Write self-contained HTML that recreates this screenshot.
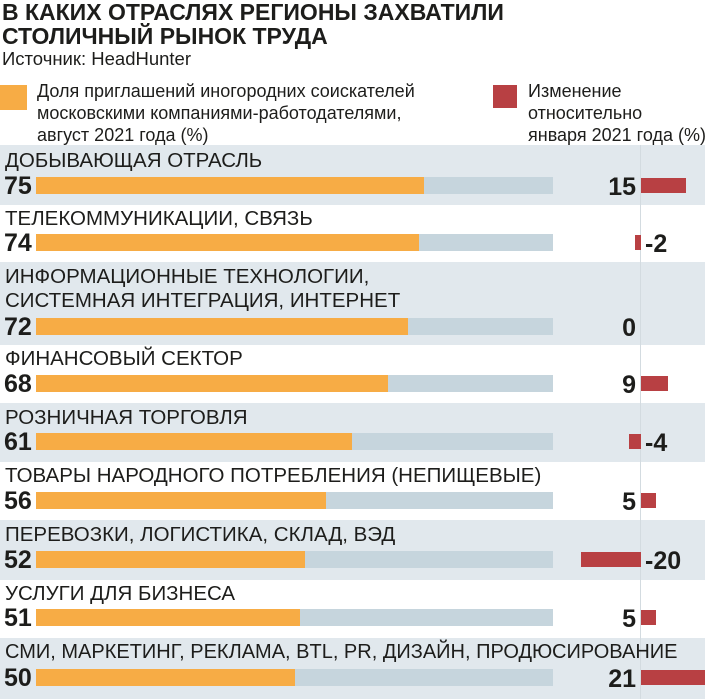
<!DOCTYPE html>
<html><head><meta charset="utf-8"><style>
*{margin:0;padding:0;box-sizing:border-box}
body{width:705px;height:699px;overflow:hidden;background:#fff;font-family:"Liberation Sans Narrow","Liberation Sans",sans-serif;color:#1d1d1b;position:relative}
.a{position:absolute;white-space:nowrap}
.t{font-weight:bold;font-size:23px;line-height:24px;left:2px}
.band{position:absolute;left:0;width:705px;background:#e1e8ed}
.lab{font-size:20.5px;line-height:22px;left:5px}
.num{font-weight:bold;font-size:25px;line-height:24px;left:4px}
.g{position:absolute;left:36px;width:517px;height:17px;background:#c6d5dd}
.o{position:absolute;left:36px;height:17px;background:#f7ac45}
.r{position:absolute;height:15px;background:#b84043}
.c{font-weight:bold;font-size:25px;line-height:24px}
</style></head><body>
<div class="a t" style="top:0">В КАКИХ ОТРАСЛЯХ РЕГИОНЫ ЗАХВАТИЛИ</div>
<div class="a t" style="top:24px">СТОЛИЧНЫЙ РЫНОК ТРУДА</div>
<div class="a" style="top:48px;left:2px;font-size:18.5px">Источник: HeadHunter</div>
<div class="a" style="left:0;top:85px;width:27px;height:25px;background:#f7ac45"></div>
<div class="a" style="left:37px;top:80px;font-size:18px;line-height:22px">Доля приглашений иногородних соискателей<br>московскими компаниями-работодателями,<br>август 2021 года (%)</div>
<div class="a" style="left:493px;top:85px;width:24px;height:23px;background:#b84043"></div>
<div class="a" style="left:528px;top:80px;font-size:18px;line-height:22px">Изменение<br>относительно<br>января 2021 года (%)</div>

<div class="band" style="top:145px;height:60px"></div>
<div class="band" style="top:262px;height:83px"></div>
<div class="band" style="top:403px;height:59px"></div>
<div class="band" style="top:520px;height:60px"></div>
<div class="band" style="top:638px;height:61px"></div>
<div class="a" style="left:640px;top:145px;width:1px;height:554px;background:#d3dbe0"></div>

<div class="a lab" style="top:150px">ДОБЫВАЮЩАЯ ОТРАСЛЬ</div>
<div class="a num" style="top:174px">75</div><div class="g" style="top:177px"></div><div class="o" style="top:177px;width:388px"></div>
<div class="r" style="left:641px;top:178px;width:45px"></div><div class="a c" style="top:175px;right:69px">15</div>

<div class="a lab" style="top:208px">ТЕЛЕКОММУНИКАЦИИ, СВЯЗЬ</div>
<div class="a num" style="top:231px">74</div><div class="g" style="top:234px"></div><div class="o" style="top:234px;width:383px"></div>
<div class="r" style="left:635px;top:235px;width:6px"></div><div class="a c" style="top:232px;left:645px">-2</div>

<div class="a lab" style="top:266px">ИНФОРМАЦИОННЫЕ ТЕХНОЛОГИИ,</div>
<div class="a lab" style="top:290px">СИСТЕМНАЯ ИНТЕГРАЦИЯ, ИНТЕРНЕТ</div>
<div class="a num" style="top:315px">72</div><div class="g" style="top:318px"></div><div class="o" style="top:318px;width:372px"></div>
<div class="a c" style="top:316px;right:69px">0</div>

<div class="a lab" style="top:348px">ФИНАНСОВЫЙ СЕКТОР</div>
<div class="a num" style="top:372px">68</div><div class="g" style="top:375px"></div><div class="o" style="top:375px;width:352px"></div>
<div class="r" style="left:641px;top:376px;width:27px"></div><div class="a c" style="top:373px;right:69px">9</div>

<div class="a lab" style="top:407px">РОЗНИЧНАЯ ТОРГОВЛЯ</div>
<div class="a num" style="top:430px">61</div><div class="g" style="top:433px"></div><div class="o" style="top:433px;width:316px"></div>
<div class="r" style="left:629px;top:434px;width:12px"></div><div class="a c" style="top:431px;left:645px">-4</div>

<div class="a lab" style="top:465px">ТОВАРЫ НАРОДНОГО ПОТРЕБЛЕНИЯ (НЕПИЩЕВЫЕ)</div>
<div class="a num" style="top:489px">56</div><div class="g" style="top:492px"></div><div class="o" style="top:492px;width:290px"></div>
<div class="r" style="left:641px;top:493px;width:15px"></div><div class="a c" style="top:490px;right:69px">5</div>

<div class="a lab" style="top:524px">ПЕРЕВОЗКИ, ЛОГИСТИКА, СКЛАД, ВЭД</div>
<div class="a num" style="top:548px">52</div><div class="g" style="top:551px"></div><div class="o" style="top:551px;width:269px"></div>
<div class="r" style="left:581px;top:552px;width:60px"></div><div class="a c" style="top:549px;left:645px">-20</div>

<div class="a lab" style="top:583px">УСЛУГИ ДЛЯ БИЗНЕСА</div>
<div class="a num" style="top:606px">51</div><div class="g" style="top:609px"></div><div class="o" style="top:609px;width:264px"></div>
<div class="r" style="left:641px;top:610px;width:15px"></div><div class="a c" style="top:607px;right:69px">5</div>

<div class="a lab" style="top:641px;font-size:20px">СМИ, МАРКЕТИНГ, РЕКЛАМА, BTL, PR, ДИЗАЙН, ПРОДЮСИРОВАНИЕ</div>
<div class="a num" style="top:666px">50</div><div class="g" style="top:669px"></div><div class="o" style="top:669px;width:259px"></div>
<div class="r" style="left:641px;top:670px;width:64px"></div><div class="a c" style="top:667px;right:69px">21</div>
</body></html>
